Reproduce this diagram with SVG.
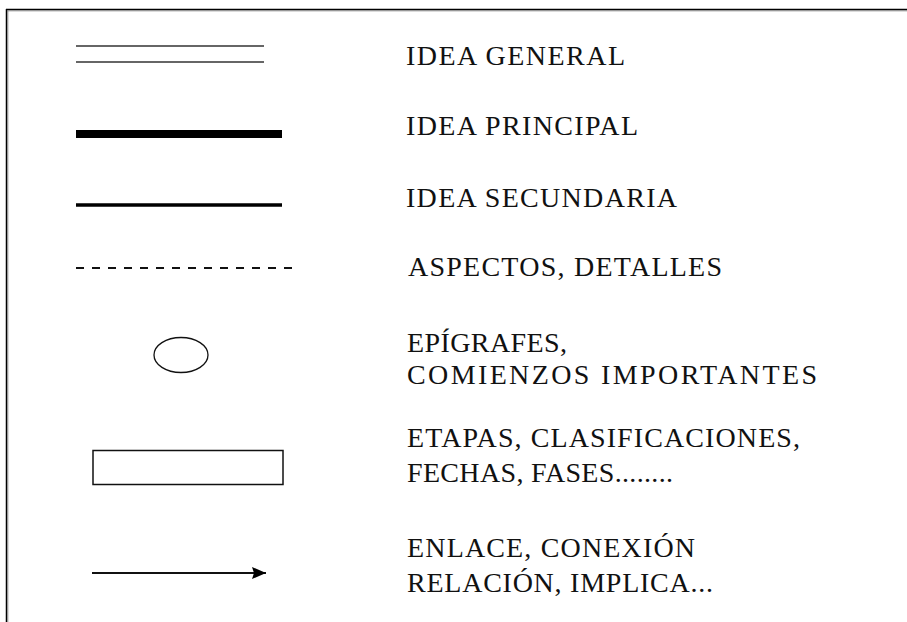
<svg xmlns="http://www.w3.org/2000/svg" width="907" height="622" viewBox="0 0 907 622">
  <style>
    .lbl { font-family: "Liberation Serif", "Times New Roman", serif; font-size: 28px; fill: #111; }
    .thin { stroke: #333; stroke-width: 1.5; fill: none; }
    .shape { stroke: #111; stroke-width: 1.5; fill: none; }
  </style>
  <defs>
    <marker id="arrowhead" markerUnits="userSpaceOnUse" markerWidth="15" markerHeight="13" refX="14" refY="6.5" orient="auto">
      <path d="M0,0.5 L14,6.5 L0,12.5 L2,6.5 Z" fill="#000"/>
    </marker>
  </defs>
  <rect x="0" y="0" width="907" height="622" fill="#fff"/>
  <g id="frame">
    <line x1="6" y1="9.5" x2="907" y2="9.5" stroke="#000" stroke-width="1.5"/>
    <line x1="7" y1="10.8" x2="907" y2="10.8" stroke="#888" stroke-width="1"/>
    <line x1="6.5" y1="9" x2="6.5" y2="622" stroke="#000" stroke-width="1.5"/>
    <line x1="7.8" y1="10.5" x2="7.8" y2="622" stroke="#888" stroke-width="1"/>
  </g>
  <g id="idea-general">
    <line class="thin" x1="76" y1="46" x2="264" y2="46"/>
    <line class="thin" x1="76" y1="62" x2="264" y2="62"/>
    <text class="lbl" x="406" y="65" textLength="219" lengthAdjust="spacing">IDEA GENERAL</text>
  </g>
  <g id="idea-principal">
    <line x1="76" y1="134" x2="282" y2="134" stroke="#000" stroke-width="8"/>
    <text class="lbl" x="406" y="135" textLength="232" lengthAdjust="spacing">IDEA PRINCIPAL</text>
  </g>
  <g id="idea-secundaria">
    <line x1="76" y1="205" x2="282" y2="205" stroke="#000" stroke-width="3.5"/>
    <text class="lbl" x="406" y="207" textLength="271" lengthAdjust="spacing">IDEA SECUNDARIA</text>
  </g>
  <g id="aspectos-detalles">
    <line x1="76" y1="268" x2="292" y2="268" stroke="#111" stroke-width="2" stroke-dasharray="8 8"/>
    <text class="lbl" x="408" y="276" textLength="314" lengthAdjust="spacing">ASPECTOS, DETALLES</text>
  </g>
  <g id="epigrafes">
    <ellipse cx="181" cy="355" rx="27" ry="17.5" stroke="#111" stroke-width="1.3" fill="none"/>
    <text class="lbl" x="407" y="352" textLength="160" lengthAdjust="spacing">EPÍGRAFES,</text>
    <text class="lbl" x="407" y="384" textLength="410" lengthAdjust="spacing">COMIENZOS IMPORTANTES</text>
  </g>
  <g id="etapas">
    <rect class="shape" x="93" y="450.5" width="190" height="34"/>
    <text class="lbl" x="407" y="447" textLength="393" lengthAdjust="spacing">ETAPAS, CLASIFICACIONES,</text>
    <text class="lbl" x="407" y="482" textLength="266" lengthAdjust="spacing">FECHAS, FASES........</text>
  </g>
  <g id="connectors">
    <g id="enlace">
      <line x1="92" y1="573" x2="266" y2="573" stroke="#111" stroke-width="1.8" marker-end="url(#arrowhead)"/>
      <text class="lbl" x="407" y="557" textLength="288" lengthAdjust="spacing">ENLACE, CONEXIÓN</text>
      <text class="lbl" x="407" y="592" textLength="306" lengthAdjust="spacing">RELACIÓN, IMPLICA...</text>
    </g>
  </g>
</svg>
